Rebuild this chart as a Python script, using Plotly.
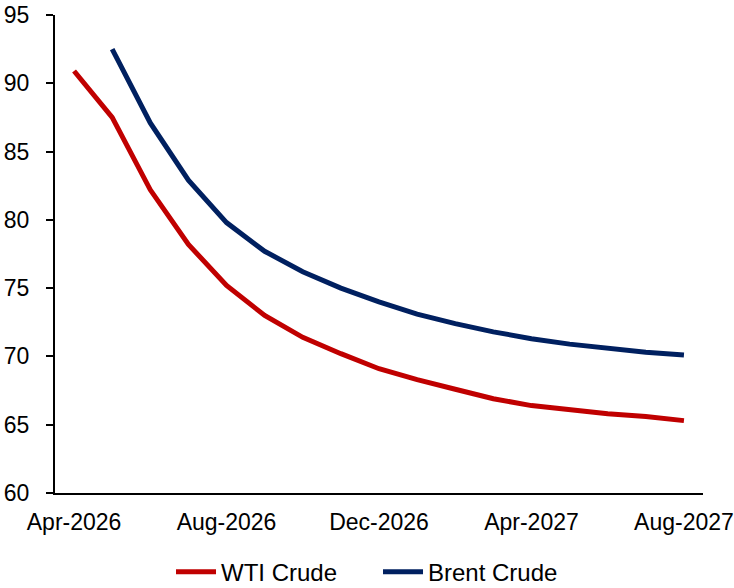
import plotly.graph_objects as go

# Monthly futures curve, Apr-2026 .. Aug-2027
months = ["Apr-2026", "May-2026", "Jun-2026", "Jul-2026", "Aug-2026", "Sep-2026",
          "Oct-2026", "Nov-2026", "Dec-2026", "Jan-2027", "Feb-2027", "Mar-2027",
          "Apr-2027", "May-2027", "Jun-2027", "Jul-2027", "Aug-2027"]

wti_crude = [90.9, 87.5, 82.2, 78.2, 75.2, 73.0, 71.4, 70.2, 69.1, 68.3, 67.6,
             66.9, 66.4, 66.1, 65.8, 65.6, 65.3]

brent_crude = [None, 92.5, 87.1, 82.9, 79.8, 77.7, 76.2, 75.0, 74.0, 73.1, 72.4,
               71.8, 71.3, 70.9, 70.6, 70.3, 70.1]

tick_labels = ["Apr-2026", "Aug-2026", "Dec-2026", "Apr-2027", "Aug-2027"]

FONT = "Liberation Sans, Arial, sans-serif"

fig = go.Figure()
fig.add_trace(go.Scatter(x=months, y=wti_crude, name="WTI Crude", mode="lines",
                         line=dict(color="#C00000", width=5)))
fig.add_trace(go.Scatter(x=months, y=brent_crude, name="Brent Crude", mode="lines",
                         line=dict(color="#002060", width=5)))

fig.update_layout(
    width=734, height=588,
    margin=dict(l=55, r=31, t=15, b=95, autoexpand=False),
    paper_bgcolor="white", plot_bgcolor="white",
    font=dict(family=FONT, size=23, color="#000000"),
    showlegend=True,
    legend=dict(orientation="h", x=0.515, xanchor="center", xref="container",
                y=0.027, yanchor="middle", yref="container",
                font=dict(size=24), itemwidth=40, tracegroupgap=0,
                entrywidth=152, entrywidthmode="pixels"),
    xaxis=dict(type="category", range=[-0.5, len(months) - 0.5],
               tickmode="array", tickvals=tick_labels, ticktext=tick_labels,
               showgrid=False, showline=True, linecolor="#000000", linewidth=2,
               ticks="", tickfont=dict(size=23), ticklabelstandoff=7,
               zeroline=False, automargin=False),
    yaxis=dict(range=[60, 95], dtick=5, showgrid=False, showline=True,
               linecolor="#000000", linewidth=2, ticks="outside", ticklen=7,
               tickwidth=2, tickcolor="#000000", tickfont=dict(size=23),
               ticklabelstandoff=12, zeroline=False, automargin=False),
)

fig.write_html("out.html")
